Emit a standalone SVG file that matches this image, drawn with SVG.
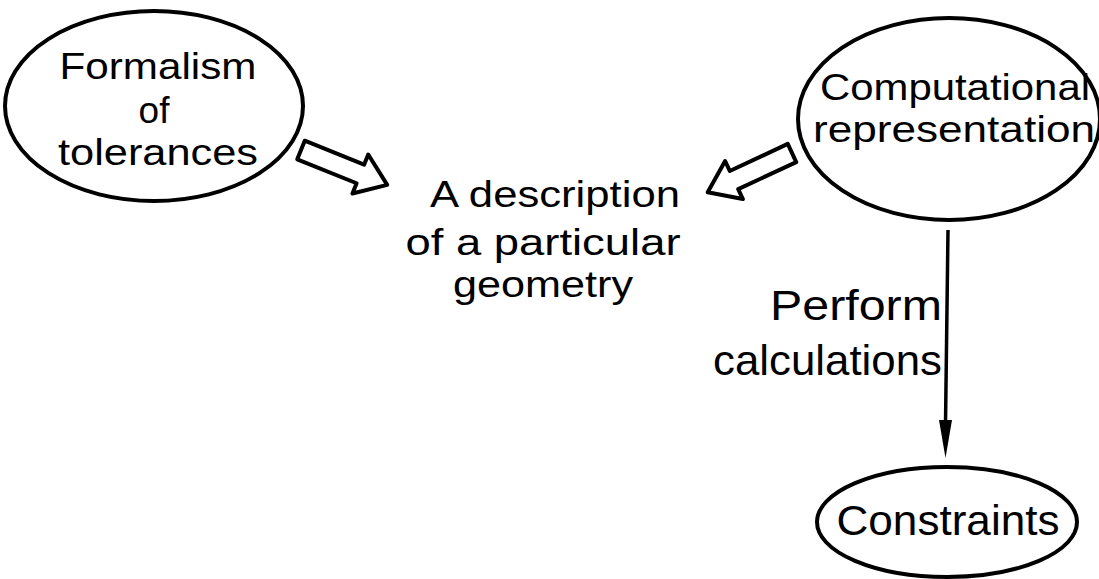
<svg xmlns="http://www.w3.org/2000/svg" width="1099" height="579" viewBox="0 0 1099 579">
<style>
.node{fill:none;stroke:#000;stroke-width:4}
.t{font-family:"Liberation Sans",Arial,sans-serif;font-size:37px;fill:#000}
.big{font-size:42px}
.c{text-anchor:middle}
.e{text-anchor:end}
.hollow{fill:#fff;stroke:#000;stroke-width:4;stroke-linejoin:round}
.line{stroke:#000;stroke-width:3.5;fill:none}
</style>
<defs>
<path id="harrow" d="M0,-10 L64,-10 L64,-21 L93,0 L64,21 L64,10 L0,10 Z"/>
</defs>
<rect width="1099" height="579" fill="#fff"/>
<g id="formalism">
<ellipse class="node" cx="154" cy="106" rx="149" ry="95"/>
<text class="t c" x="158" y="79" textLength="197" lengthAdjust="spacingAndGlyphs">Formalism</text>
<text class="t c" x="154" y="123">of</text>
<text class="t c" x="158" y="165" textLength="200" lengthAdjust="spacingAndGlyphs">tolerances</text>
</g>
<g id="computational">
<ellipse class="node" cx="949" cy="119" rx="151" ry="101"/>
<text class="t" x="820" y="100" textLength="270" lengthAdjust="spacingAndGlyphs">Computational</text>
<text class="t" x="813" y="142" textLength="282" lengthAdjust="spacingAndGlyphs">representation</text>
</g>
<g id="description">
<text class="t c" x="555" y="207" textLength="250" lengthAdjust="spacingAndGlyphs">A description</text>
<text class="t c" x="543" y="255" textLength="275" lengthAdjust="spacingAndGlyphs">of a particular</text>
<text class="t c" x="543" y="297" textLength="180" lengthAdjust="spacingAndGlyphs">geometry</text>
</g>
<g id="constraints">
<ellipse class="node" cx="947" cy="522" rx="130" ry="55"/>
<text class="t big c" x="948" y="535" textLength="223" lengthAdjust="spacingAndGlyphs">Constraints</text>
</g>
<g id="connectors">
<use href="#harrow" class="hollow" transform="translate(301,150) rotate(22)"/>
<use href="#harrow" class="hollow" transform="translate(792,153) rotate(155)"/>
<line class="line" x1="948" y1="230" x2="945.5" y2="425"/>
<polygon points="939,420 952,420 945.5,458" fill="#000"/>
<text class="t big e" x="942" y="320" textLength="172" lengthAdjust="spacingAndGlyphs">Perform</text>
<text class="t big e" x="942" y="375" textLength="229" lengthAdjust="spacingAndGlyphs">calculations</text>
</g>
</svg>
